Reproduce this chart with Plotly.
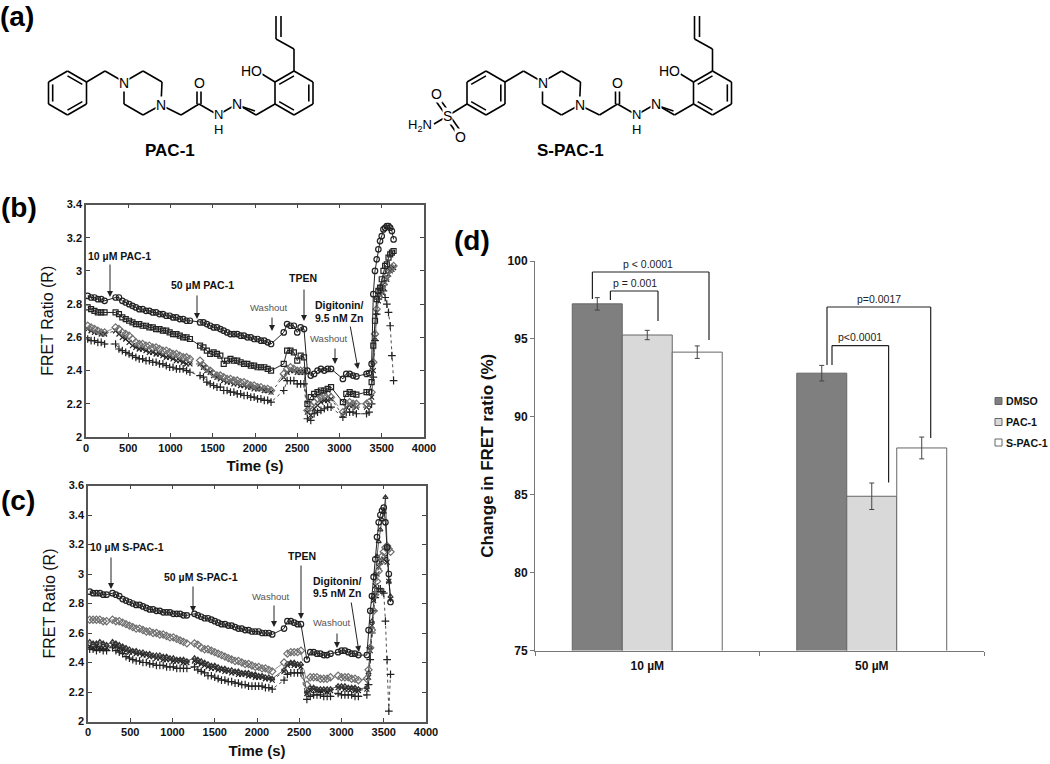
import plotly.graph_objects as go

W, H = 1050, 764
FONT = "Liberation Sans, Arial, sans-serif"

# ---------- panel (b) data ----------
time_b = [20,60,100,140,180,220,
          350,390,430,470,510,550,590,630,670,710,750,790,830,870,910,950,990,1030,1070,1110,1150,1190,1230,
          1350,1390,1430,1470,1510,1550,1590,1630,1670,1710,1750,1790,1830,1870,1910,1950,1990,2030,2070,2110,2150,2190,
          2340,2380,2420,2460,2500,2540,2580,
          2620,2660,2700,2740,2780,2820,2860,2900,
          3040,3080,3120,3160,3200,
          3320,3350,3380,3400,3420,3440,3460,3480,3500,3520,3540,3560,3580,3600,3620,3640]
b_circle = [2.85,2.84,2.84,2.83,2.83,2.82,
            2.84,2.84,2.82,2.81,2.80,2.79,2.78,2.77,2.77,2.76,2.76,2.75,2.75,2.74,2.74,2.73,2.73,2.72,2.72,2.71,2.71,2.70,2.70,
            2.69,2.69,2.68,2.67,2.66,2.66,2.65,2.64,2.63,2.62,2.62,2.62,2.61,2.61,2.60,2.60,2.59,2.59,2.58,2.58,2.57,2.56,
            2.63,2.68,2.67,2.67,2.63,2.66,2.65,
            2.40,2.37,2.38,2.40,2.41,2.40,2.41,2.41,
            2.35,2.38,2.38,2.37,2.365,
            2.38,2.385,2.44,2.86,3.00,3.07,3.13,3.18,3.21,3.25,3.26,3.27,3.27,3.26,3.24,3.19]
b_square = [2.78,2.77,2.76,2.75,2.75,2.75,
            2.75,2.74,2.72,2.71,2.70,2.69,2.68,2.68,2.67,2.67,2.66,2.66,2.65,2.65,2.64,2.64,2.63,2.62,2.62,2.61,2.60,2.60,2.59,
            2.55,2.54,2.52,2.50,2.51,2.50,2.49,2.44,2.46,2.47,2.46,2.46,2.45,2.44,2.44,2.43,2.43,2.42,2.42,2.42,2.41,2.40,
            2.44,2.52,2.52,2.51,2.46,2.49,2.48,
            2.20,2.24,2.26,2.27,2.28,2.28,2.29,2.30,
            2.21,2.26,2.27,2.26,2.255,
            2.27,2.27,2.33,2.55,2.70,2.83,2.88,2.90,2.95,3.00,3.03,3.04,3.08,3.10,3.11,3.12]
b_diamond = [2.67,2.66,2.65,2.64,2.63,2.63,
             2.66,2.65,2.63,2.62,2.61,2.59,2.57,2.56,2.56,2.55,2.55,2.54,2.54,2.53,2.52,2.52,2.51,2.50,2.50,2.49,2.48,2.48,2.47,
             2.46,2.43,2.41,2.40,2.38,2.37,2.37,2.36,2.35,2.35,2.34,2.34,2.33,2.33,2.32,2.31,2.31,2.30,2.30,2.29,2.29,2.28,
             2.38,2.41,2.42,2.41,2.40,2.40,2.40,
             2.16,2.19,2.21,2.23,2.24,2.25,2.26,2.24,
             2.15,2.20,2.21,2.20,2.20,
             2.20,2.21,2.27,2.45,2.62,2.77,2.84,2.87,2.90,2.92,2.95,2.97,3.00,3.01,3.02,3.03]
b_x = [2.65,2.64,2.63,2.63,2.62,2.62,
       2.64,2.62,2.60,2.59,2.57,2.55,2.54,2.53,2.53,2.52,2.51,2.51,2.50,2.50,2.49,2.48,2.48,2.47,2.46,2.46,2.45,2.44,2.44,
       2.44,2.42,2.40,2.39,2.37,2.36,2.35,2.34,2.33,2.33,2.32,2.32,2.31,2.31,2.30,2.30,2.29,2.29,2.29,2.28,2.28,2.27,
       2.36,2.39,2.40,2.40,2.39,2.39,2.39,
       2.15,2.13,2.17,2.19,2.21,2.22,2.22,2.23,
       2.13,2.18,2.19,2.19,2.18,
       2.18,2.19,2.24,2.40,2.60,2.75,2.82,2.86,2.88,2.90,2.93,2.95,2.98,3.00,3.01,3.02]
b_plus = [2.59,2.58,2.58,2.57,2.57,2.56,
          2.56,2.53,2.52,2.51,2.50,2.49,2.48,2.47,2.47,2.46,2.46,2.45,2.45,2.44,2.44,2.43,2.42,2.42,2.41,2.41,2.41,2.40,2.39,
          2.37,2.36,2.33,2.32,2.31,2.30,2.30,2.28,2.28,2.27,2.27,2.26,2.26,2.25,2.25,2.24,2.24,2.23,2.23,2.22,2.22,2.21,
          2.28,2.34,2.34,2.34,2.32,2.32,2.32,
          2.11,2.10,2.14,2.15,2.16,2.17,2.18,2.18,
          2.12,2.15,2.15,2.15,2.14,
          2.14,2.15,2.20,2.36,2.58,2.74,2.83,2.89,2.91,2.88,2.84,2.80,2.75,2.67,2.49,2.34]

# ---------- panel (c) data ----------
time_c = [20,60,100,140,180,220,
          290,330,370,410,450,490,530,570,610,650,690,730,770,810,850,890,930,970,1010,1050,1090,1130,1170,
          1260,1300,1340,1380,1420,1460,1500,1540,1580,1620,1660,1700,1740,1780,1820,1860,1900,1940,1980,2020,2060,2100,2140,2180,
          2320,2360,2400,2440,2480,2520,
          2590,2630,2670,2710,2750,2790,2830,2870,
          2960,3000,3040,3080,3120,3160,3200,
          3300,3320,3340,3360,3380,3400,3420,3440,3460,3480,3500,3520,3540,3560,3580]
c_circle = [2.88,2.87,2.87,2.87,2.86,2.86,
            2.87,2.86,2.85,2.83,2.82,2.81,2.80,2.79,2.79,2.78,2.77,2.76,2.76,2.75,2.75,2.74,2.74,2.74,2.73,2.73,2.73,2.72,2.72,
            2.73,2.72,2.71,2.70,2.70,2.69,2.68,2.67,2.66,2.66,2.65,2.65,2.64,2.63,2.63,2.62,2.62,2.61,2.61,2.61,2.60,2.60,2.60,2.59,
            2.63,2.68,2.68,2.67,2.66,2.66,
            2.42,2.47,2.47,2.46,2.46,2.45,2.45,2.46,
            2.47,2.48,2.48,2.47,2.46,2.46,2.45,
            2.45,2.62,2.75,2.85,2.98,3.10,3.25,3.35,3.40,3.43,3.45,3.35,3.18,3.00,2.81]
c_diamond = [2.69,2.69,2.69,2.69,2.68,2.68,
             2.69,2.68,2.68,2.67,2.66,2.65,2.64,2.63,2.63,2.62,2.61,2.61,2.60,2.60,2.59,2.59,2.58,2.57,2.57,2.56,2.55,2.54,2.53,
             2.53,2.52,2.50,2.49,2.49,2.48,2.47,2.46,2.45,2.44,2.43,2.42,2.41,2.41,2.40,2.39,2.39,2.38,2.37,2.37,2.36,2.36,2.35,2.34,
             2.40,2.46,2.47,2.47,2.47,2.48,
             2.25,2.30,2.30,2.30,2.29,2.29,2.29,2.30,
             2.31,2.30,2.30,2.30,2.29,2.29,2.28,
             2.29,2.35,2.50,2.62,2.75,2.86,2.95,3.02,3.08,3.12,3.15,3.18,3.19,3.17,3.15]
c_triangle = [2.54,2.53,2.53,2.54,2.53,2.52,
              2.54,2.53,2.52,2.51,2.50,2.49,2.48,2.48,2.47,2.47,2.46,2.46,2.45,2.45,2.45,2.44,2.44,2.43,2.43,2.42,2.42,2.42,2.41,
              2.43,2.42,2.41,2.40,2.39,2.38,2.38,2.37,2.36,2.36,2.35,2.35,2.34,2.34,2.33,2.33,2.33,2.32,2.32,2.31,2.31,2.30,2.30,2.29,
              2.35,2.39,2.40,2.40,2.39,2.39,
              2.20,2.23,2.23,2.22,2.22,2.22,2.22,2.22,
              2.24,2.24,2.24,2.23,2.23,2.23,2.22,
              2.23,2.33,2.50,2.68,2.85,3.00,3.12,3.22,3.30,3.37,3.42,3.52,3.18,2.95,2.85]
c_x = [2.51,2.50,2.51,2.50,2.50,2.50,
       2.52,2.51,2.50,2.49,2.48,2.47,2.47,2.46,2.46,2.45,2.45,2.44,2.44,2.43,2.43,2.42,2.42,2.42,2.41,2.41,2.41,2.40,2.40,
       2.41,2.40,2.39,2.38,2.37,2.36,2.36,2.35,2.35,2.34,2.34,2.33,2.33,2.32,2.32,2.32,2.31,2.31,2.30,2.30,2.30,2.29,2.29,2.28,
       2.34,2.38,2.39,2.38,2.38,2.37,
       2.19,2.21,2.22,2.21,2.21,2.21,2.20,2.21,
       2.23,2.23,2.22,2.22,2.22,2.21,2.21,
       2.22,2.30,2.48,2.65,2.82,2.92,3.00,3.05,3.08,3.09,3.10,3.12,3.08,2.95,2.83]
c_plus = [2.49,2.49,2.48,2.49,2.48,2.48,
          2.50,2.48,2.47,2.46,2.44,2.43,2.42,2.41,2.41,2.40,2.40,2.39,2.39,2.38,2.38,2.38,2.37,2.37,2.37,2.36,2.36,2.36,2.36,
          2.37,2.35,2.34,2.33,2.31,2.31,2.30,2.29,2.28,2.28,2.27,2.27,2.26,2.26,2.25,2.25,2.24,2.24,2.24,2.24,2.24,2.23,2.23,2.22,
          2.28,2.32,2.33,2.33,2.33,2.33,
          2.15,2.17,2.18,2.18,2.18,2.17,2.17,2.17,
          2.19,2.18,2.18,2.18,2.18,2.17,2.17,
          2.18,2.25,2.42,2.60,2.75,2.84,2.88,2.90,2.90,2.88,2.87,2.68,2.42,2.07,2.32]

# ---------- panel (d) data ----------
dose = ["10 µM", "50 µM"]
treatments = ["DMSO", "PAC-1", "S-PAC-1"]
dmso = [97.25, 92.8]
pac1 = [95.25, 84.9]
spac1 = [94.15, 88.0]
dmso_err = [0.4, 0.5]
pac1_err = [0.3, 0.85]
spac1_err = [0.4, 0.7]
bar_colors = ["#7f7f7f", "#d9d9d9", "#ffffff"]

for s in (b_circle, b_square, b_diamond, b_x, b_plus):
    assert len(s) == len(time_b), len(s)
for s in (c_circle, c_diamond, c_triangle, c_x, c_plus):
    assert len(s) == len(time_c), len(s)


def px(x):
    return x / W


def py(y):
    return 1 - y / H


fig = go.Figure()


def series(x, y, sym, ax, color="#111111", dash="solid", size=5, lw=1):
    fig.add_trace(go.Scatter(
        x=x, y=y, mode="lines+markers", xaxis=ax[0], yaxis=ax[1], showlegend=False,
        line=dict(color=color, width=lw, dash=dash),
        marker=dict(symbol=sym, size=size, color=color, line=dict(color=color, width=1.2)),
    ))


ab = ("x", "y")
series(time_b, b_plus, "cross-thin-open", ab, "#222222", "dot", 5.5, 0.8)
series(time_b, b_x, "x-thin-open", ab, "#222222", "dot", 5, 0.8)
series(time_b, b_diamond, "diamond-open", ab, "#6f6f6f", "dash", 5.5, 0.8)
series(time_b, b_square, "square-open", ab, "#222222", "solid", 5, 1)
series(time_b, b_circle, "circle-open", ab, "#222222", "solid", 5.5, 1)

ac = ("x2", "y2")
series(time_c, c_plus, "cross-thin-open", ac, "#222222", "dot", 5.5, 0.8)
series(time_c, c_x, "x-thin-open", ac, "#222222", "dot", 5, 0.8)
series(time_c, c_triangle, "triangle-up-open", ac, "#333333", "solid", 4.5, 0.8)
series(time_c, c_diamond, "diamond-open", ac, "#6f6f6f", "dash", 5.5, 0.8)
series(time_c, c_circle, "circle-open", ac, "#222222", "solid", 5.5, 1)

for name, vals, errs, col in zip(treatments, (dmso, pac1, spac1), (dmso_err, pac1_err, spac1_err), bar_colors):
    fig.add_trace(go.Bar(
        x=dose, y=vals, name=name, xaxis="x3", yaxis="y3", showlegend=False,
        marker=dict(color=col, line=dict(color="#666666", width=1)),
        error_y=dict(type="data", array=errs, color="#444444", thickness=1, width=2.5),
    ))

axis_line = dict(showline=True, linecolor="#555555", linewidth=1.5, mirror="ticks", ticks="inside",
                 ticklen=4, tickwidth=1, tickcolor="#444444", showgrid=False, zeroline=False,
                 tickfont=dict(family=FONT, size=11, color="#111111", weight="bold"))


def num_axis(dom, rng, dtick, title, standoff, size, fmt=""):
    return dict(domain=dom, range=rng, dtick=dtick, tick0=rng[0], tickformat=fmt,
                title=dict(text=title, font=dict(family=FONT, size=size, color="#111111"), standoff=standoff),
                **axis_line)


fig.update_layout(
    width=W, height=H, autosize=False, margin=dict(l=0, r=0, t=0, b=0, autoexpand=False),
    paper_bgcolor="white", plot_bgcolor="white", barmode="group", bargap=0.332, bargroupgap=0,
    showlegend=False, font=dict(family=FONT, color="#111111"),
    xaxis=dict(anchor="y", **num_axis([px(86), px(424)], [0, 4000], 500, "<b>Time (s)</b>", 8, 15)),
    yaxis=dict(anchor="x", **num_axis([py(437), py(204.5)], [2, 3.4], 0.2, "FRET Ratio (R)", 9, 16, "~g")),
    xaxis2=dict(anchor="y2", **num_axis([px(88), px(426)], [0, 4000], 500, "<b>Time (s)</b>", 8, 15)),
    yaxis2=dict(anchor="x2", **num_axis([py(721.5), py(485.5)], [2, 3.6], 0.2, "FRET Ratio (R)", 9, 16, "~g")),
    xaxis3=dict(anchor="y3", domain=[px(535), px(984)], type="category", showline=True, linecolor="#777777",
                linewidth=1, ticks="outside", tickson="boundaries", ticklen=4, tickcolor="#777777",
                showgrid=False, ticklabelstandoff=4,
                tickfont=dict(family=FONT, size=12, color="#111111", weight="bold")),
    yaxis3=dict(anchor="x3", domain=[py(650.5), py(261)], range=[75, 100], dtick=5, showline=True,
                linecolor="#777777", linewidth=1, ticks="outside", ticklen=4, tickcolor="#777777",
                showgrid=False, zeroline=False,
                tickfont=dict(family=FONT, size=12, color="#111111", weight="bold"),
                title=dict(text="<b>Change in FRET ratio (%)</b>", font=dict(family=FONT, size=17, color="#111111"),
                           standoff=9)),
)

shapes = []
notes = []


def line(x0, y0, x1, y1, color="#000000", width=1.6):
    shapes.append(dict(type="line", xref="paper", yref="paper", x0=px(x0), y0=py(y0), x1=px(x1), y1=py(y1),
                       line=dict(color=color, width=width)))


def text(x, y, s, size=11, color="#111111", bold=False, bg=None, anchor="center", family=FONT):
    d = dict(xref="paper", yref="paper", x=px(x), y=py(y), text=f"<b>{s}</b>" if bold else s, showarrow=False,
             xanchor=anchor, yanchor="middle", font=dict(family=family, size=size, color=color), borderpad=0)
    if bg:
        d["bgcolor"] = bg
    notes.append(d)


def arrow(x0, y0, x1, y1):
    notes.append(dict(xref="paper", yref="paper", x=px(x1), y=py(y1), ax=x0 - x1, ay=y0 - y1, text="",
                      showarrow=True, arrowhead=2, arrowsize=1.2, arrowwidth=1, arrowcolor="#222222"))


# panel letters
text(17, 16, "(a)", 28, "#000000", True)
text(19, 207, "(b)", 28, "#000000", True)
text(18, 500, "(c)", 28, "#000000", True)
text(472, 240, "(d)", 28, "#000000", True)

# panel (b) annotations
text(119, 256, "10 µM PAC-1", 10.5, bold=True)
arrow(110, 263, 110, 297)
text(202, 285, "50 µM PAC-1", 10.5, bold=True)
arrow(197, 294, 197, 319)
text(268, 307, "Washout", 9.5, "#555555")
arrow(272, 316, 272, 331)
text(303, 278, "TPEN", 10.5, bold=True)
arrow(304, 288, 304, 321)
text(339, 305, "Digitonin/", 10.5, bold=True)
text(339, 318, "9.5 nM Zn", 10.5, bold=True)
arrow(350, 325, 358, 369)
text(328, 338, "Washout", 9.5, "#555555")
arrow(335, 347, 335, 364)

# panel (c) annotations
text(127, 547, "10 µM S-PAC-1", 10.5, bold=True)
arrow(111, 556, 111, 589)
text(201, 577, "50 µM S-PAC-1", 10.5, bold=True)
arrow(193, 585, 193, 612)
text(270, 596, "Washout", 9.5, "#555555")
arrow(274, 604, 274, 627)
text(302, 556, "TPEN", 10.5, bold=True)
arrow(301, 564, 301, 619)
text(337, 581, "Digitonin/", 10.5, bold=True)
text(337, 593, "9.5 nM Zn", 10.5, bold=True)
arrow(351, 601, 359, 652)
text(331, 622, "Washout", 9.5, "#555555")
arrow(337, 632, 337, 648)


# panel (d) brackets
def bracket(x0, y0, ytop, x1, y1, label, lx, ly):
    for a, b, c, d in ((x0, y0, x0, ytop), (x0, ytop, x1, ytop), (x1, ytop, x1, y1)):
        line(a, b, c, d, "#222222", 1.2)
    text(lx, ly, label, 10.5, "#222222")


bracket(592.4, 299, 272, 709, 340, "p &lt; 0.0001", 648, 264)
bracket(610.4, 300, 291, 658, 321, "p = 0.001", 634.5, 283)
bracket(827, 365, 307, 930.7, 438, "p=0.0017", 879, 299)
bracket(832, 365, 345.6, 888.6, 482.5, "p&lt;0.0001", 860, 337)

# panel (d) key
for name, col, yy in zip(treatments, bar_colors, (401, 422, 442.5)):
    shapes.append(dict(type="rect", xref="paper", yref="paper", x0=px(995), x1=px(1002), y0=py(yy - 3.5), y1=py(yy + 3.5),
                       line=dict(color="#666666", width=1), fillcolor=col))
    text(1004.5, yy, name, 10.6, "#111111", True, anchor="left")


# panel (a) structures
def chem(x, y, s, size=14):
    text(x, y, s, size, "#000000", bg="#ffffff")


def ring(dx, cx, cy, doubles):
    pts = [(cx, cy - 22), (cx + 19, cy - 11), (cx + 19, cy + 11), (cx, cy + 22), (cx - 19, cy + 11), (cx - 19, cy - 11)]
    for i in range(6):
        a, b = pts[i], pts[(i + 1) % 6]
        line(a[0] + dx, a[1], b[0] + dx, b[1])
        if i in doubles:
            ia = (cx + (a[0] - cx) * 0.78, cy + (a[1] - cy) * 0.78)
            ib = (cx + (b[0] - cx) * 0.78, cy + (b[1] - cy) * 0.78)
            line(ia[0] + dx, ia[1], ib[0] + dx, ib[1])


def molecule(dx):
    ring(dx, 294, 93, (5, 1, 3))
    path = [(86.5, 82), (105, 71), (124, 82), (143, 71), (162, 82), (161, 105), (143, 115), (124, 104), (124, 82)]
    for a, b in zip(path, path[1:]):
        line(a[0] + dx, a[1], b[0] + dx, b[1])
    chain = [(161, 105), (181, 115), (199, 104), (218, 115), (237, 104), (256, 115), (275, 104)]
    for a, b in zip(chain, chain[1:]):
        line(a[0] + dx, a[1], b[0] + dx, b[1])
    line(197 + dx, 104, 197 + dx, 84)
    line(201 + dx, 104, 201 + dx, 84)
    line(240 + dx, 106, 255 + dx, 111)
    line(275 + dx, 82, 262 + dx, 74)
    al = [(294, 71), (294, 49), (276, 39), (276, 16)]
    for a, b in zip(al, al[1:]):
        line(a[0] + dx, a[1], b[0] + dx, b[1])
    line(281 + dx, 37, 281 + dx, 16)
    chem(124 + dx, 83, "N")
    chem(161 + dx, 105, "N")
    chem(199 + dx, 83, "O")
    chem(218 + dx, 114, "N", 13)
    chem(218 + dx, 129, "H", 13)
    chem(237 + dx, 104, "N")
    chem(251 + dx, 71, "HO")


ring(0, 67.5, 93, (4, 0, 2))
molecule(0)
ring(418.5, 67.5, 93, (5, 1, 3))
molecule(418.5)
line(467, 104, 447.5, 116)
line(447.5, 116, 434, 124)
line(445, 114, 433, 97)
line(449, 112, 437, 95)
line(446, 118, 458, 135)
line(450, 116, 462, 133)
chem(447.5, 116, "S")
chem(436, 94, "O")
chem(461, 137, "O")
chem(420, 126, "H<sub>2</sub>N", 13)
text(170, 150, "PAC-1", 17, "#000000", True)
text(570, 150, "S-PAC-1", 17, "#000000", True)

fig.update_layout(shapes=shapes, annotations=notes)
fig.write_html("out.html", config=dict(displayModeBar=False),
               post_script="document.body.style.margin='0';document.body.style.overflow='hidden';")
